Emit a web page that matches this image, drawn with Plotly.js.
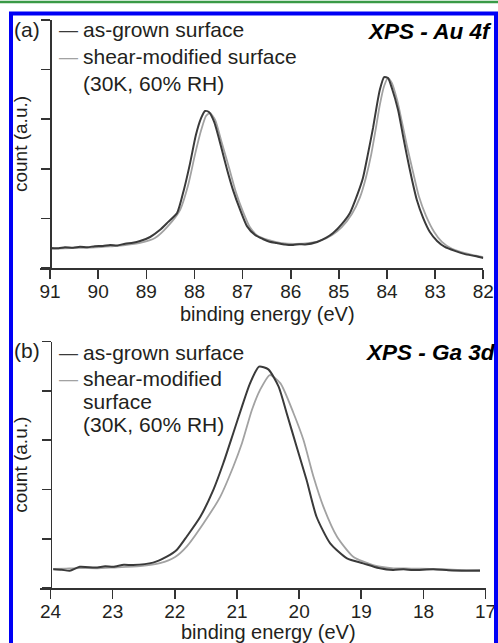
<!DOCTYPE html>
<html><head><meta charset="utf-8">
<script src="https://cdn.plot.ly/plotly-3.0.1.min.js"></script>
<style>html,body{margin:0;padding:0;background:#fff;}#chart{width:498px;height:643px;}</style>
</head><body><div id="chart"></div>
<script>
// Panel (a): XPS Au 4f
const auEnergyGrown = [91.0, 90.82, 90.69, 90.52, 90.38, 90.22, 90.07, 89.9, 89.75, 89.6, 89.44, 89.28, 89.13, 88.92, 88.72, 88.55, 88.36, 88.22, 88.09, 87.97, 87.86, 87.78, 87.70, 87.59, 87.45, 87.32, 87.20, 87.05, 86.91, 86.74, 86.58, 86.44, 86.29, 86.12, 85.95, 85.82, 85.70, 85.45, 85.27, 85.12, 84.94, 84.77, 84.62, 84.50, 84.40, 84.29, 84.21, 84.15, 84.06, 83.98, 83.90, 83.77, 83.67, 83.59, 83.48, 83.38, 83.25, 83.11, 82.96, 82.80, 82.59, 82.38, 82.17, 82.0];
const auCountGrown = [8.1, 8.0, 8.4, 8.2, 8.6, 8.4, 8.8, 8.9, 9.3, 9.1, 9.8, 10.2, 10.9, 12.5, 15.3, 18.5, 22.2, 31.5, 42.3, 53.6, 60.5, 63.3, 62.9, 58.9, 49.2, 39.5, 31.5, 23.4, 16.9, 13.3, 11.7, 10.6, 10.1, 9.5, 9.3, 9.6, 9.5, 10.5, 12.1, 14.1, 17.7, 22.2, 29.4, 36.3, 45.6, 56.5, 65.7, 71.8, 77.0, 76.6, 72.6, 63.7, 53.6, 45.6, 35.5, 27.4, 20.2, 14.5, 10.9, 8.5, 6.9, 5.6, 4.8, 4.0];
const auEnergyShear = [91.0, 90.7, 90.38, 90.05, 89.75, 89.44, 89.13, 88.82, 88.55, 88.30, 88.13, 87.99, 87.86, 87.76, 87.68, 87.57, 87.43, 87.28, 87.14, 86.99, 86.85, 86.68, 86.47, 86.22, 85.91, 85.60, 85.35, 85.14, 84.94, 84.73, 84.56, 84.44, 84.33, 84.23, 84.15, 84.06, 83.98, 83.90, 83.79, 83.69, 83.59, 83.46, 83.34, 83.19, 83.02, 82.86, 82.65, 82.38, 82.15, 82.0];
const auCountShear = [7.7, 7.9, 8.1, 8.3, 8.7, 9.2, 10.1, 12.1, 16.9, 23.4, 33.5, 45.6, 55.6, 61.3, 62.5, 59.7, 50.4, 40.3, 30.6, 22.6, 16.5, 12.9, 11.3, 10.1, 9.7, 10.1, 11.3, 13.3, 16.5, 21.8, 28.6, 36.3, 45.6, 56.5, 65.7, 73.4, 76.6, 74.6, 67.7, 58.9, 49.6, 38.7, 29.0, 21.0, 14.5, 10.5, 7.7, 6.0, 5.0, 4.4];

// Panel (b): XPS Ga 3d
const gaEnergyGrown = [23.955, 23.82, 23.69, 23.53, 23.28, 23.12, 22.99, 22.82, 22.67, 22.35, 22.13, 21.97, 21.81, 21.59, 21.38, 21.22, 21.06, 20.92, 20.79, 20.645, 20.495, 20.33, 20.20, 20.04, 19.88, 19.72, 19.50, 19.23, 18.97, 18.72, 18.49, 18.32, 18.17, 17.84, 17.6, 17.30, 17.09];
const gaCountGrown = [7.6, 7.4, 7.0, 8.6, 8.3, 8.8, 8.6, 9.4, 9.3, 10.3, 12.7, 15.4, 20.8, 28.9, 39.8, 50.6, 62.8, 73.6, 83.0, 89.8, 88.7, 81.7, 70.9, 57.3, 43.8, 28.9, 18.1, 12.0, 10.0, 8.1, 7.3, 7.6, 7.3, 7.6, 7.2, 7.0, 7.0];
const gaEnergyShear = [23.96, 23.75, 23.53, 23.25, 22.99, 22.56, 22.24, 21.995, 21.81, 21.54, 21.27, 21.06, 20.92, 20.76, 20.63, 20.47, 20.30, 20.09, 19.93, 19.77, 19.61, 19.39, 19.13, 18.81, 18.48, 18.2, 17.89, 17.62, 17.41, 17.09];
const gaCountShear = [7.7, 7.9, 8.1, 8.0, 8.3, 8.9, 10.1, 12.6, 16.8, 26.2, 37.0, 49.2, 58.7, 72.2, 80.3, 86.4, 83.0, 70.9, 60.0, 45.2, 33.0, 20.8, 12.7, 9.3, 8.0, 7.9, 7.7, 7.5, 7.3, 7.3];

const auTicks = [91, 90, 89, 88, 87, 86, 85, 84, 83, 82];
const gaTicks = [24, 23, 22, 21, 20, 19, 18, 17];
const countTicks = [0, 20, 40, 60, 80, 100];

const seriesNames = ['as-grown surface', 'shear-modified surface (30K, 60% RH)'];
const xTitle = 'binding energy (eV)';
const yTitle = 'count (a.u.)';
const darkColor = '#3a3a3a';
const grayColor = '#a2a2a2';
const textColor = '#231f20';
const FONT = 'Liberation Sans, Arial, sans-serif';

// page geometry (pixels) -> paper coords
const W = 498, H = 643, ML = 40, MR = 12, MT = 20, MB = 55;
const PW = W - ML - MR, PH = H - MT - MB;
const px = v => (v - ML) / PW;
const py = v => 1 - (v - MT) / PH;

const lineStyle = (c, w) => ({color: c, width: w, shape: 'spline', smoothing: 0.6});
const traces = [
  {x: auEnergyShear, y: auCountShear, xaxis: 'x', yaxis: 'y', name: seriesNames[1], mode: 'lines', line: lineStyle(grayColor, 1.8)},
  {x: auEnergyGrown, y: auCountGrown, xaxis: 'x', yaxis: 'y', name: seriesNames[0], mode: 'lines', line: lineStyle(darkColor, 2)},
  {x: gaEnergyShear, y: gaCountShear, xaxis: 'x2', yaxis: 'y2', name: seriesNames[1], mode: 'lines', line: lineStyle(grayColor, 1.8)},
  {x: gaEnergyGrown, y: gaCountGrown, xaxis: 'x2', yaxis: 'y2', name: seriesNames[0], mode: 'lines', line: lineStyle(darkColor, 2)}
];

const axisCommon = {
  showgrid: false, zeroline: false, showline: true, linecolor: '#333', linewidth: 1.6,
  ticks: 'outside', ticklen: 9, tickwidth: 1.6, tickcolor: '#333',
  tickfont: {size: 19, color: textColor, family: FONT}, fixedrange: true
};

function xAx(domEnd, range, ticks, anchor) {
  return Object.assign({}, axisCommon, {
    domain: [0, domEnd], range: range, tickmode: 'array', tickvals: ticks, anchor: anchor,
    ticklabelstandoff: -3
  });
}
function yAx(dom, pos) {
  return Object.assign({}, axisCommon, {
    domain: dom, range: [0, 100], tickmode: 'array', tickvals: countTicks, showticklabels: false,
    anchor: 'free', position: pos,
    title: {text: yTitle, font: {size: 19, color: textColor, family: FONT}, standoff: 7}
  });
}

function label(text, x, y, opts) {
  return Object.assign({
    text: text, xref: 'paper', yref: 'paper', x: px(x), y: py(y), xanchor: 'left', yanchor: 'middle',
    showarrow: false, font: {size: 21, color: textColor, family: FONT}
  }, opts || {});
}
const dashLabel = (c, x, y) => label('—', x, y, {font: {size: 19, color: c, family: FONT}});
const titleFont = {size: 22.5, color: '#000', family: FONT};
const axisTitleFont = {size: 20, color: textColor, family: FONT};

const annotations = [
  label('(a)', 12, 30),
  dashLabel(darkColor, 57, 30),
  label(seriesNames[0], 81, 30),
  dashLabel(grayColor, 57, 56),
  label('shear-modified surface', 81, 56),
  label('(30K, 60% RH)', 81, 83),
  label('<b><i>XPS - Au 4f</i></b>', 494, 31, {xanchor: 'right', font: titleFont}),
  label(xTitle, 267.5, 313.5, {xanchor: 'center', font: axisTitleFont}),
  label('(b)', 12, 351),
  dashLabel(darkColor, 57, 352),
  label(seriesNames[0], 81, 352),
  dashLabel(grayColor, 57, 378),
  label('shear-modified', 81, 378),
  label('surface', 81, 401),
  label('(30K, 60% RH)', 81, 424),
  label('<b><i>XPS - Ga 3d</i></b>', 498, 352, {xanchor: 'right', font: titleFont}),
  label(xTitle, 268, 631.5, {xanchor: 'center', font: axisTitleFont})
];

const shapes = [
  {type: 'line', xref: 'paper', yref: 'paper', x0: px(0), x1: px(498), y0: py(2), y1: py(2), line: {color: '#3a9a46', width: 2.5}},
  {type: 'rect', xref: 'paper', yref: 'paper', x0: px(11), x1: px(496), y0: py(13.5), y1: py(650), line: {color: '#0000f5', width: 4}, layer: 'above'}
];

const layout = {
  width: W, height: H, margin: {l: ML, r: MR, t: MT, b: MB},
  paper_bgcolor: '#fff', plot_bgcolor: 'rgba(0,0,0,0)', showlegend: false,
  font: {family: FONT, color: textColor},
  xaxis: xAx((483.3 - ML) / PW, [91.208, 82], auTicks, 'y'),
  yaxis: yAx([py(268), 1], px(50)),
  xaxis2: xAx((485.6 - ML) / PW, [24.169, 17], gaTicks, 'y2'),
  yaxis2: yAx([0, py(341.5)], px(50.5)),
  annotations: annotations, shapes: shapes
};

Plotly.newPlot('chart', traces, layout, {displayModeBar: false, staticPlot: true});
</script></body></html>
